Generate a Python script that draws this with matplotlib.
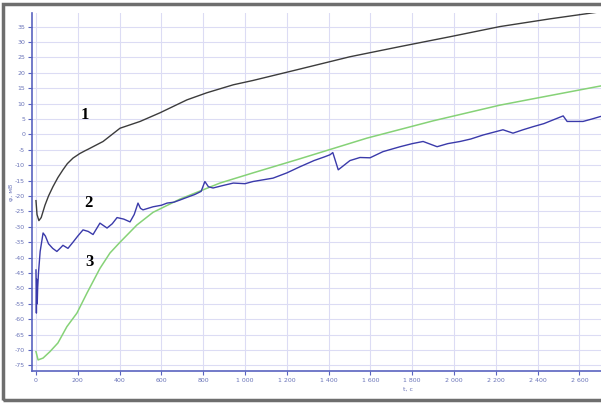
import matplotlib
matplotlib.use("Agg")
import matplotlib.pyplot as plt
from matplotlib.patches import Rectangle
from matplotlib.ticker import FuncFormatter, MultipleLocator

plt.rcParams["axes.unicode_minus"] = False

# кривая 1
t1 = [0, 5, 14, 25, 43, 60, 81, 105, 129, 150, 177, 210, 235, 250, 321, 402,
      498, 593, 722, 817, 944, 1038, 1250, 1502, 1742, 1981, 2220, 2459, 2700]
v1 = [-21.5, -26, -28, -27, -23, -20, -17, -14, -11.5, -9.5, -7.7, -6.2, -5.3,
      -4.8, -2.3, 2.0, 4.2, 7.0, 11.2, 13.5, 16.1, 17.5, 21.0, 25.2, 28.5,
      31.7, 35.0, 37.5, 39.8]

# кривая 2
t2 = [0, 2, 4, 6, 8, 12, 20, 34, 45, 60, 80, 100, 115, 129, 153, 177, 200,
      225, 250, 273, 306, 340, 365, 388, 420, 450, 470, 488, 500, 512, 560,
      600, 627, 660, 689, 720, 760, 790, 808, 825, 847, 900, 944, 1000, 1038,
      1134, 1200, 1263, 1330, 1380, 1407, 1420, 1446, 1502, 1550, 1598, 1660,
      1742, 1800, 1852, 1919, 1970, 2029, 2080, 2139, 2234, 2282, 2330, 2378,
      2430, 2474, 2522, 2541, 2580, 2617, 2660, 2700]
v2 = [-44, -58, -47, -55, -50, -45, -38, -32, -33, -35.5, -37, -38, -37, -36,
      -37, -35, -33, -31, -31.5, -32.5, -28.8, -30.4, -29, -27, -27.5, -28.4,
      -26, -22.3, -24, -24.5, -23.5, -23, -22.3, -22, -21.3, -20.5, -19.5,
      -18.5, -15.3, -17, -17.4, -16.5, -15.8, -16, -15.3, -14.2, -12.5, -10.5,
      -8.5, -7.3, -6.6, -5.9, -11.5, -8.5, -7.5, -7.6, -5.6, -4, -3, -2.3, -4,
      -3, -2.3, -1.5, -0.2, 1.5, 0.4, 1.5, 2.5, 3.5, 4.7, 6.0, 4.2, 4.2, 4.2,
      5.0, 5.8]

# кривая 3
t3 = [0, 10, 34, 67, 105, 148, 196, 244, 306, 354, 402, 483, 560, 689, 880,
      1038, 1249, 1584, 1900, 2220, 2397, 2700]
v3 = [-70.5, -73.2, -72.6, -70.5, -67.7, -62.4, -58, -51.5, -43.5, -38.5,
      -35, -29.4, -25.3, -21, -15.8, -12.5, -8.2, -1.2, 4.4, 9.5, 11.8, 15.7]

labels = ["1", "2", "3"]
label_pos = [(234, 6.3), (249, -22.2), (258, -41.4)]

axis_blue = "#5a64c0"
grid_col = "#dcdcf4"

fig = plt.figure(figsize=(6.01, 4.03), dpi=100)
W, H = 601, 403
ax = fig.add_axes([32 / W, (H - 371) / H, 569 / W, 358 / H])

ax.plot(t1, v1, color="#3c3c3c", lw=1.0)
ax.plot(t3, v3, color="#86d277", lw=1.1)
ax.plot(t2, v2, color="#3a3aaa", lw=1.0)

for s, (x, y) in zip(labels, label_pos):
    ax.text(x, y, s, family="Liberation Serif", fontweight="bold",
            fontsize=12, ha="center", va="center", color="black")

ax.set_xlim(-19, 2703)
ax.set_ylim(-76.8, 39.4)
ax.xaxis.set_major_locator(MultipleLocator(200))
ax.yaxis.set_major_locator(MultipleLocator(5))
ax.xaxis.set_major_formatter(FuncFormatter(lambda v, p: f"{int(v):,}".replace(",", " ")))
ax.yaxis.set_major_formatter(FuncFormatter(lambda v, p: f"{int(round(v))}"))
ax.grid(True, color=grid_col, lw=0.8)
ax.set_axisbelow(True)

for side in ["top", "right"]:
    ax.spines[side].set_visible(False)
for side in ["left", "bottom"]:
    ax.spines[side].set_color(axis_blue)
    ax.spines[side].set_linewidth(1.2)
ax.tick_params(colors=axis_blue, labelcolor="#6a74b8", labelsize=4.5,
               length=3, width=0.8, pad=2)

ax.set_xlabel("t, c", fontsize=4.5, color="#6a74b8", labelpad=1)
ax.xaxis.set_label_coords((408 - 32) / 569, -0.045)
ax.set_ylabel("φ, мВ", fontsize=4.5, color="#6a74b8", labelpad=1)
ax.yaxis.set_label_coords(-0.032, (371 - 192) / 358)

# рамка вокруг рисунка (справа обрезана)
fig.patches.append(Rectangle((3 / W, 3 / H), 1.1, 1 - 7 / H,
                             transform=fig.transFigure, fill=False,
                             edgecolor="#6e6e6e", lw=2.5))

fig.savefig("out.png", dpi=100)
